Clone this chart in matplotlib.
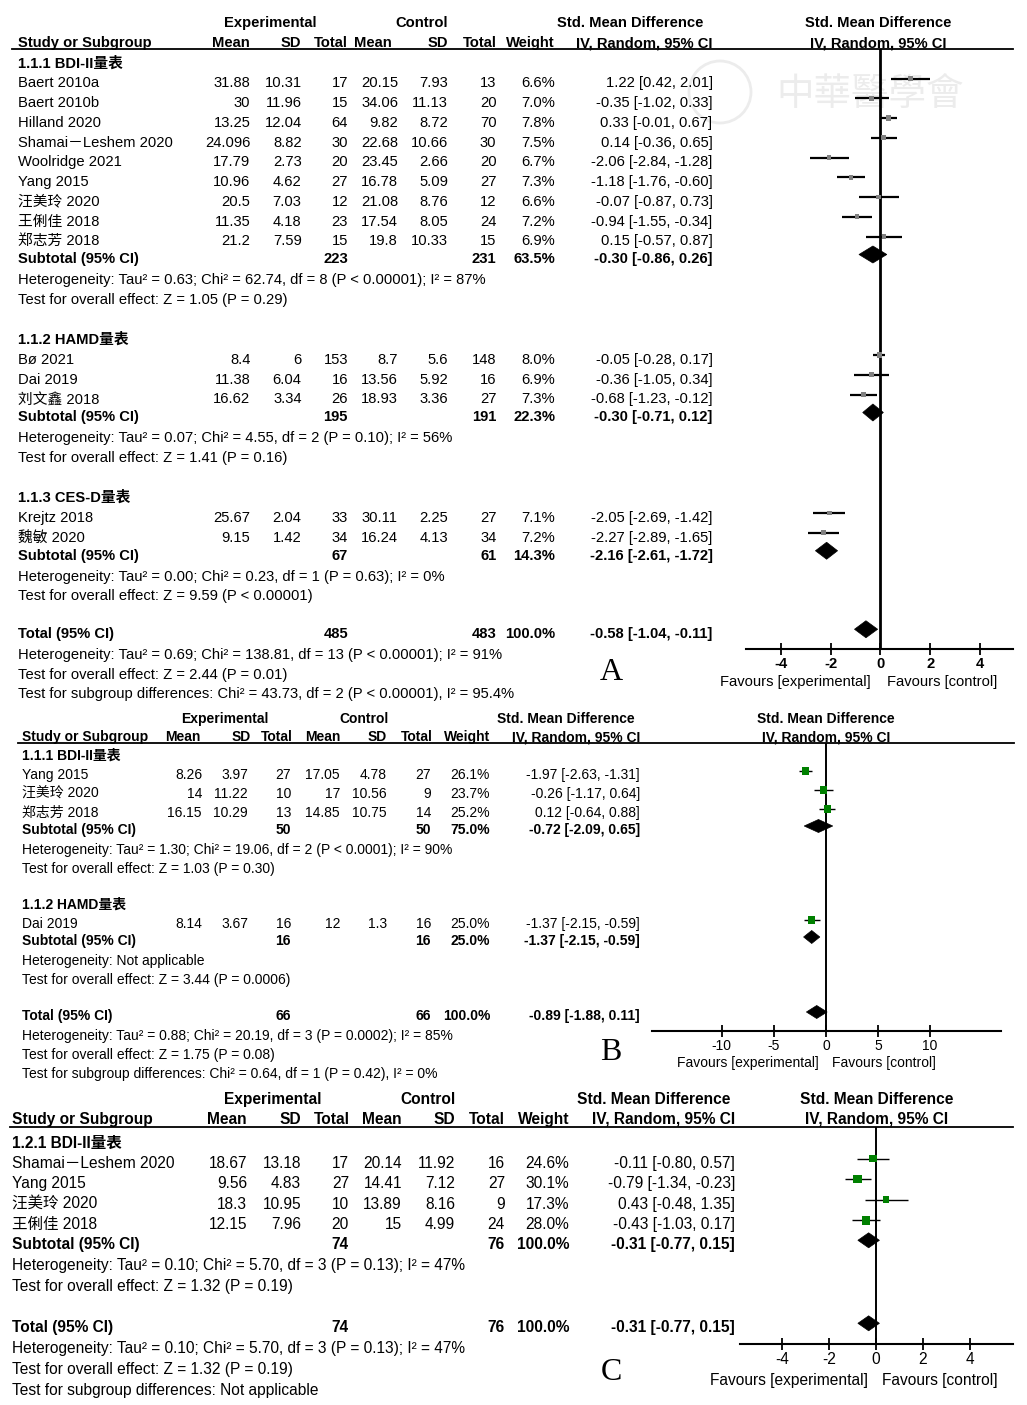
import matplotlib
matplotlib.use("Agg")
import matplotlib.pyplot as plt
from matplotlib.patches import Polygon, Circle
import numpy as np

W, H = 1027, 1405
plt.rcParams['font.family'] = ['Liberation Sans', 'Noto Sans CJK SC', 'DejaVu Sans']

# ---------------- panel A data ----------------
A_groups = ["1.1.1 BDI-II量表", "1.1.2 HAMD量表", "1.1.3 CES-D量表"]
A_study = ["Baert 2010a", "Baert 2010b", "Hilland 2020", "Shamai－Leshem 2020",
           "Woolridge 2021", "Yang 2015", "汪美玲 2020", "王俐佳 2018", "郑志芳 2018",
           "Bø 2021", "Dai 2019", "刘文鑫 2018",
           "Krejtz 2018", "魏敏 2020"]
A_grp = [0, 0, 0, 0, 0, 0, 0, 0, 0, 1, 1, 1, 2, 2]
A_m1 = [31.88, 30, 13.25, 24.096, 17.79, 10.96, 20.5, 11.35, 21.2, 8.4, 11.38, 16.62, 25.67, 9.15]
A_sd1 = [10.31, 11.96, 12.04, 8.82, 2.73, 4.62, 7.03, 4.18, 7.59, 6, 6.04, 3.34, 2.04, 1.42]
A_n1 = [17, 15, 64, 30, 20, 27, 12, 23, 15, 153, 16, 26, 33, 34]
A_m2 = [20.15, 34.06, 9.82, 22.68, 23.45, 16.78, 21.08, 17.54, 19.8, 8.7, 13.56, 18.93, 30.11, 16.24]
A_sd2 = [7.93, 11.13, 8.72, 10.66, 2.66, 5.09, 8.76, 8.05, 10.33, 5.6, 5.92, 3.36, 2.25, 4.13]
A_n2 = [13, 20, 70, 30, 20, 27, 12, 24, 15, 148, 16, 27, 27, 34]
A_w = [6.6, 7.0, 7.8, 7.5, 6.7, 7.3, 6.6, 7.2, 6.9, 8.0, 6.9, 7.3, 7.1, 7.2]
A_smd = [1.22, -0.35, 0.33, 0.14, -2.06, -1.18, -0.07, -0.94, 0.15, -0.05, -0.36, -0.68, -2.05, -2.27]
A_lo = [0.42, -1.02, -0.01, -0.36, -2.84, -1.76, -0.87, -1.55, -0.57, -0.28, -1.05, -1.23, -2.69, -2.89]
A_hi = [2.01, 0.33, 0.67, 0.65, -1.28, -0.60, 0.73, -0.34, 0.87, 0.17, 0.34, -0.12, -1.42, -1.65]
A_sub_n1 = [223, 195, 67]
A_sub_n2 = [231, 191, 61]
A_sub_w = [63.5, 22.3, 14.3]
A_sub_smd = [-0.30, -0.30, -2.16]
A_sub_lo = [-0.86, -0.71, -2.61]
A_sub_hi = [0.26, 0.12, -1.72]
A_het = ["Heterogeneity: Tau² = 0.63; Chi² = 62.74, df = 8 (P < 0.00001); I² = 87%",
         "Heterogeneity: Tau² = 0.07; Chi² = 4.55, df = 2 (P = 0.10); I² = 56%",
         "Heterogeneity: Tau² = 0.00; Chi² = 0.23, df = 1 (P = 0.63); I² = 0%"]
A_z = ["Test for overall effect: Z = 1.05 (P = 0.29)",
       "Test for overall effect: Z = 1.41 (P = 0.16)",
       "Test for overall effect: Z = 9.59 (P < 0.00001)"]
A_total = [485, 483, 100.0, -0.58, -1.04, -0.11]
A_foot = ["Heterogeneity: Tau² = 0.69; Chi² = 138.81, df = 13 (P < 0.00001); I² = 91%",
          "Test for overall effect: Z = 2.44 (P = 0.01)",
          "Test for subgroup differences: Chi² = 43.73, df = 2 (P < 0.00001), I² = 95.4%"]
A_ticks = [-4, -2, 0, 2, 4]

# ---------------- panel B data ----------------
B_groups = ["1.1.1 BDI-II量表", "1.1.2 HAMD量表"]
B_study = ["Yang 2015", "汪美玲 2020", "郑志芳 2018", "Dai 2019"]
B_grp = [0, 0, 0, 1]
B_m1 = [8.26, 14, 16.15, 8.14]
B_sd1 = [3.97, 11.22, 10.29, 3.67]
B_n1 = [27, 10, 13, 16]
B_m2 = [17.05, 17, 14.85, 12]
B_sd2 = [4.78, 10.56, 10.75, 1.3]
B_n2 = [27, 9, 14, 16]
B_w = [26.1, 23.7, 25.2, 25.0]
B_smd = [-1.97, -0.26, 0.12, -1.37]
B_lo = [-2.63, -1.17, -0.64, -2.15]
B_hi = [-1.31, 0.64, 0.88, -0.59]
B_sub_n1 = [50, 16]
B_sub_n2 = [50, 16]
B_sub_w = [75.0, 25.0]
B_sub_smd = [-0.72, -1.37]
B_sub_lo = [-2.09, -2.15]
B_sub_hi = [0.65, -0.59]
B_het = ["Heterogeneity: Tau² = 1.30; Chi² = 19.06, df = 2 (P < 0.0001); I² = 90%",
         "Heterogeneity: Not applicable"]
B_z = ["Test for overall effect: Z = 1.03 (P = 0.30)",
       "Test for overall effect: Z = 3.44 (P = 0.0006)"]
B_total = [66, 66, 100.0, -0.89, -1.88, 0.11]
B_foot = ["Heterogeneity: Tau² = 0.88; Chi² = 20.19, df = 3 (P = 0.0002); I² = 85%",
          "Test for overall effect: Z = 1.75 (P = 0.08)",
          "Test for subgroup differences: Chi² = 0.64, df = 1 (P = 0.42), I² = 0%"]
B_ticks = [-10, -5, 0, 5, 10]

# ---------------- panel C data ----------------
C_groups = ["1.2.1 BDI-II量表"]
C_study = ["Shamai－Leshem 2020", "Yang 2015", "汪美玲 2020", "王俐佳 2018"]
C_grp = [0, 0, 0, 0]
C_m1 = [18.67, 9.56, 18.3, 12.15]
C_sd1 = [13.18, 4.83, 10.95, 7.96]
C_n1 = [17, 27, 10, 20]
C_m2 = [20.14, 14.41, 13.89, 15]
C_sd2 = [11.92, 7.12, 8.16, 4.99]
C_n2 = [16, 27, 9, 24]
C_w = [24.6, 30.1, 17.3, 28.0]
C_smd = [-0.11, -0.79, 0.43, -0.43]
C_lo = [-0.80, -1.34, -0.48, -1.03]
C_hi = [0.57, -0.23, 1.35, 0.17]
C_sub_n1 = [74]
C_sub_n2 = [76]
C_sub_w = [100.0]
C_sub_smd = [-0.31]
C_sub_lo = [-0.77]
C_sub_hi = [0.15]
C_het = ["Heterogeneity: Tau² = 0.10; Chi² = 5.70, df = 3 (P = 0.13); I² = 47%"]
C_z = ["Test for overall effect: Z = 1.32 (P = 0.19)"]
C_total = [74, 76, 100.0, -0.31, -0.77, 0.15]
C_foot = ["Heterogeneity: Tau² = 0.10; Chi² = 5.70, df = 3 (P = 0.13); I² = 47%",
          "Test for overall effect: Z = 1.32 (P = 0.19)",
          "Test for subgroup differences: Not applicable"]
C_ticks = [-4, -2, 0, 2, 4]

fig = plt.figure(figsize=(W / 100, H / 100), dpi=100)
bg = fig.add_axes([0, 0, 1, 1])
bg.set_xlim(0, W)
bg.set_ylim(H, 0)
bg.axis('off')


def put(x, y, s, fs, ha='left', bold=False, **kw):
    # y is the visual middle of the capitals
    bg.text(x, y + 0.36 * fs * 100 / 72, s, ha=ha, va='baseline', fontsize=fs,
            fontweight='bold' if bold else 'normal', **kw)


def fmt_ci(e, lo, hi):
    return f"{e:.2f} [{lo:.2f}, {hi:.2f}]"


def draw_panel(d, L):
    fs = L['fs']
    c = L['cols']
    # header
    put(L['x_exp'], L['yh1'], "Experimental", fs, ha='center', bold=True)
    put(L['x_ctl'], L['yh1'], "Control", fs, ha='center', bold=True)
    put(L['x_smd'], L['yh1'], "Std. Mean Difference", fs, ha='center', bold=True)
    put(L['x_plot'], L['yh1'], "Std. Mean Difference", fs, ha='center', bold=True)
    put(L['xl'], L['yh2'], "Study or Subgroup", fs, bold=True)
    for x, s in zip(L['hcols'], ["Mean", "SD", "Total", "Mean", "SD", "Total", "Weight",
                                  "IV, Random, 95% CI"]):
        put(x, L['yh2'], s, fs, ha='right', bold=True)
    put(L['x_plot'], L['yh2'], "IV, Random, 95% CI", fs, ha='center', bold=True)
    bg.plot(L['line_x'], [L['ytop'], L['ytop']], color='black', lw=1.3)

    # forest axes
    x0, x1 = L['ax_x']
    ax = fig.add_axes([x0 / W, 1 - L['ybot'] / H, (x1 - x0) / W, (L['ybot'] - L['ytop']) / H])
    ax.set_xlim(L['xlim'])
    ax.set_ylim(L['ybot'], L['ytop'])
    ax.patch.set_visible(False)
    for s in ['top', 'left', 'right']:
        ax.spines[s].set_visible(False)
    ax.spines['bottom'].set_linewidth(1.5)
    ax.set_yticks([])
    ax.set_xticks(d['ticks'])
    ax.set_xticklabels([str(t) for t in d['ticks']],
                       fontweight='bold' if L['tick_bold'] else 'normal')
    ax.tick_params(axis='x', direction='inout', length=9, width=1.3,
                   labelsize=fs, pad=1)
    ax.axvline(0, color='black', lw=L['zero_lw'])

    def diamond(e, lo, hi, y):
        h = L['dh']
        ax.add_patch(Polygon([(lo, y), (e, y - h), (hi, y), (e, y + h)], closed=True,
                             facecolor='black', edgecolor='black', lw=0.5, clip_on=False,
                             zorder=4))

    off = L['moff']
    ys, es, los, his, ws = [], [], [], [], []
    y = L['y0']
    ng = len(d['groups'])
    for g in range(ng):
        put(L['xl'], y, d['groups'][g], fs, bold=True)
        y += L['d_head']
        idx = [i for i, k in enumerate(d['grp']) if k == g]
        for j, i in enumerate(idx):
            if j:
                y += L['pitch']
            put(L['xl'], y, d['study'][i], fs)
            vals = [d['m1'][i], d['sd1'][i], d['n1'][i], d['m2'][i], d['sd2'][i],
                    d['n2'][i], f"{d['w'][i]:.1f}%", fmt_ci(d['smd'][i], d['lo'][i], d['hi'][i])]
            for x, v in zip(c, vals):
                put(x, y, str(v), fs, ha='right')
            ys.append(y + off)
            es.append(d['smd'][i])
            los.append(d['lo'][i])
            his.append(d['hi'][i])
            ws.append(d['w'][i])
        y += L['d_sub']
        put(L['xl'], y, "Subtotal (95% CI)", fs, bold=True)
        put(c[2], y, str(d['sub_n1'][g]), fs, ha='right', bold=True)
        put(c[5], y, str(d['sub_n2'][g]), fs, ha='right', bold=True)
        put(c[6], y, f"{d['sub_w'][g]:.1f}%", fs, ha='right', bold=True)
        put(c[7], y, fmt_ci(d['sub_smd'][g], d['sub_lo'][g], d['sub_hi'][g]), fs,
            ha='right', bold=True)
        diamond(d['sub_smd'][g], d['sub_lo'][g], d['sub_hi'][g], y + off)
        y += L['d_het']
        put(L['xl'], y, d['het'][g], fs)
        y += L['d_z']
        put(L['xl'], y, d['z'][g], fs)
        y += L['d_next'] if g < ng - 1 else L['d_total']

    t = d['total']
    put(L['xl'], y, "Total (95% CI)", fs, bold=True)
    put(c[2], y, str(t[0]), fs, ha='right', bold=True)
    put(c[5], y, str(t[1]), fs, ha='right', bold=True)
    put(c[6], y, f"{t[2]:.1f}%", fs, ha='right', bold=True)
    put(c[7], y, fmt_ci(t[3], t[4], t[5]), fs, ha='right', bold=True)
    diamond(t[3], t[4], t[5], y + off)
    y += L['d_het']
    for k, s in enumerate(d['foot']):
        put(L['xl'], y, s, fs)
        y += L['d_z']

    ax.hlines(ys, los, his, color='black', lw=L['ci_lw'], zorder=2)
    side = L['msize'] * np.sqrt(np.array(ws)) * 0.72
    ax.scatter(es, ys, s=side ** 2, marker='s', color=L['mcolor'], linewidths=0, zorder=3)

    put(L['fav'][0], L['yfav'], "Favours [experimental]", fs, ha='center')
    put(L['fav'][1], L['yfav'], "Favours [control]", fs, ha='center')
    bg.text(L['letter'][0], L['letter'][1], L['letter'][2], fontsize=23, ha='center',
            va='center', family=['Liberation Serif', 'DejaVu Serif'])


def pack(p):
    g = globals()
    keys = ['groups', 'study', 'grp', 'm1', 'sd1', 'n1', 'm2', 'sd2', 'n2', 'w', 'smd', 'lo', 'hi',
            'sub_n1', 'sub_n2', 'sub_w', 'sub_smd', 'sub_lo', 'sub_hi', 'het', 'z', 'total',
            'foot', 'ticks']
    return {k: g[p + '_' + k] for k in keys}


LA = dict(fs=10.6, xl=18, yh1=22, yh2=42, x_exp=270, x_ctl=422, x_smd=630, x_plot=878,
          hcols=[250, 301, 348, 392, 448, 497, 555, 713],
          cols=[250.5, 301.5, 348, 398, 448, 496.5, 555, 712.5],
          line_x=[12, 1013], ytop=49, ybot=649, ax_x=(746, 1013), xlim=(-5.4, 5.33),
          tick_bold=True, zero_lw=2.0, dh=8.5, moff=-3.5,
          y0=62, d_head=20, pitch=19.75, d_sub=18, d_het=21, d_z=19.5, d_next=40, d_total=38,
          ci_lw=1.6, msize=1.8, mcolor='#808080',
          fav=(795, 942), yfav=681, letter=(611, 672, 'A'))

LB = dict(fs=10, xl=22, yh1=718, yh2=736, x_exp=225, x_ctl=364, x_smd=566, x_plot=826,
          hcols=[201, 251, 293, 340, 387, 433, 490, 640],
          cols=[202, 248, 291, 340, 387, 431, 490, 640],
          line_x=[18, 1014], ytop=743, ybot=1031, ax_x=(652, 1001), xlim=(-16.7, 16.8),
          tick_bold=False, zero_lw=1.4, dh=6.5, moff=-3,
          y0=755, d_head=19, pitch=19, d_sub=17, d_het=20, d_z=19, d_next=36, d_total=36,
          ci_lw=1.0, msize=1.45, mcolor='#008000',
          fav=(748, 884), yfav=1062, letter=(611, 1052, 'B'))

LC = dict(fs=11.2, xl=12, yh1=1098, yh2=1118, x_exp=273, x_ctl=428, x_smd=654, x_plot=877,
          hcols=[247, 301, 350, 402, 455, 505, 569, 735],
          cols=[247, 301, 349, 402, 455, 505, 569, 735],
          line_x=[10, 1013], ytop=1127, ybot=1344, ax_x=(740, 1013), xlim=(-5.8, 5.85),
          tick_bold=False, zero_lw=1.4, dh=7.5, moff=-3.5,
          y0=1142, d_head=20, pitch=20.6, d_sub=20, d_het=21, d_z=21, d_next=40, d_total=41,
          ci_lw=1.0, msize=1.6, mcolor='#008000',
          fav=(789, 940), yfav=1379, letter=(611, 1372, 'C'))

# faint watermark behind panel A
bg.add_patch(Circle((720, 92), 31, fill=False, ec='#ececec', lw=2, zorder=0))
bg.text(870, 94, "中華醫學會", fontsize=27, color='#ececec', ha='center', va='center',
        family=['Noto Sans CJK TC'], zorder=0)

draw_panel(pack('A'), LA)
draw_panel(pack('B'), LB)
draw_panel(pack('C'), LC)

fig.savefig("out.png", dpi=100)
